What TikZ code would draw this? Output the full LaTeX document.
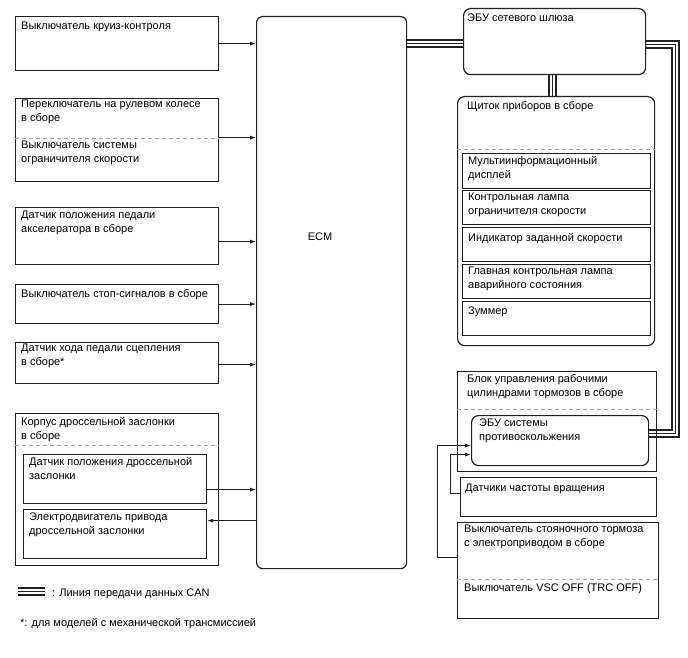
\documentclass[tikz,border=0pt]{standalone}
\usepackage{fontspec}
\setmainfont{Liberation Sans}
\usetikzlibrary{arrows.meta}
\definecolor{ln}{HTML}{231F20}
\newcommand\fs{\fontsize{11}{14}\selectfont}
\pgfdeclarelayer{bg}
\pgfsetlayers{bg,main}
\begin{document}
\begin{tikzpicture}[x=1pt,y=-1pt,
 box/.style={draw=ln, line width=1.2pt, inner sep=0, anchor=north west},
 rbox/.style={box, rounded corners=7pt},
 txt/.style={anchor=north west, inner sep=0, align=left, font=\fs, yshift=5.8pt, execute at begin node=\strut},
 arr/.style={draw=ln, line width=0.8pt, -{Latex[length=6pt,width=4pt]}},
 dsh/.style={draw=gray!70, line width=0.8pt, dash pattern=on 4pt off 3pt},
 can/.style={draw=white, line width=4.6pt, line join=miter, preaction={draw=ln, line width=9pt, line join=miter}, postaction={draw=ln, line width=1pt, line join=miter}}]
\useasboundingbox (0,0) rectangle (688,658);

% ---------- boxes ----------
\node[box, minimum width=203pt, minimum height=54pt] (b1) at (15,16) {};
\node[box, minimum width=203pt, minimum height=83pt] (b2) at (15,98) {};
\node[box, minimum width=203pt, minimum height=57pt] (b3) at (15,207) {};
\node[box, minimum width=203pt, minimum height=39pt] (b4) at (15,284) {};
\node[box, minimum width=203pt, minimum height=41pt] (b5) at (15,342) {};
\node[box, minimum width=203pt, minimum height=152pt] (tb) at (15,413) {};
\node[box, minimum width=183pt, minimum height=49pt] (tbA) at (23,454) {};
\node[box, minimum width=183pt, minimum height=49pt] (tbB) at (23,509) {};
\node[rbox, rounded corners=6pt, minimum width=150pt, minimum height=552pt] (ecm) at (256,16) {};

\node[rbox, minimum width=182pt, minimum height=66pt] (gw) at (463,8) {};
\node[rbox, minimum width=197pt, minimum height=249pt] (ic) at (457,96) {};
\node[box, minimum width=188pt, minimum height=35pt] (ic1) at (462,153) {};
\node[box, minimum width=188pt, minimum height=34pt] (ic2) at (462,190) {};
\node[box, minimum width=188pt, minimum height=34pt] (ic3) at (462,227) {};
\node[box, minimum width=188pt, minimum height=34pt] (ic4) at (462,264) {};
\node[box, minimum width=188pt, minimum height=34pt] (ic5) at (462,301) {};
\node[box, minimum width=199pt, minimum height=100pt] (brk) at (457,371) {};
\node[rbox, minimum width=177pt, minimum height=50pt] (ecu) at (471,415) {};
\node[box, minimum width=196pt, minimum height=39pt] (spd) at (460,477) {};
\node[box, minimum width=201pt, minimum height=96pt] (park) at (457,522) {};

% ---------- CAN lines ----------
\begin{pgfonlayer}{bg}
\path ([yshift=-2pt]gw.west) coordinate (c1);
\draw[can] (c1 -| ecm.east) -- (c1);
\path ([xshift=-2pt]gw.south) coordinate (c2);
\draw[can] (c2) -- (c2 |- ic.north);
\draw[can] ([yshift=-3pt]gw.east) -- ++(29,0) |- ([yshift=7pt]ecu.east);
\end{pgfonlayer}

% ---------- dashed separators ----------
\draw[dsh] ([yshift=-40pt]b2.north west) -- ([yshift=-40pt]b2.north east);
\draw[dsh] ([yshift=-32pt]tb.north west) -- ([yshift=-32pt]tb.north east);
\draw[dsh] ([yshift=-53pt]ic.north west) -- ([yshift=-53pt]ic.north east);
\draw[dsh] ([yshift=-38pt]brk.north west) -- ([yshift=-38pt]brk.north east);
\draw[dsh] ([yshift=-57pt]park.north west) -- ([yshift=-57pt]park.north east);

% ---------- texts ----------
\node[txt] (t1) at (21,25) {Выключатель круиз-контроля};
\node[txt] (t2a) at (21,106) {Переключатель на рулевом колесе\\в сборе};
\node[txt] (t2b) at (21,147) {Выключатель системы\\ограничителя скорости};
\node[txt] (t3) at (21,217) {Датчик положения педали\\акселератора в сборе};
\node[txt] (t4) at (21,293) {Выключатель стоп-сигналов в сборе};
\node[txt] (t5) at (21,350) {Датчик хода педали сцепления\\в сборе*};
\node[txt] (t6) at (21,423) {Корпус дроссельной заслонки\\в сборе};
\node[txt] (t6a) at (29,463) {Датчик положения дроссельной\\заслонки};
\node[txt] (t6b) at (29,518) {Электродвигатель привода\\дроссельной заслонки};
\node[font=\fs, inner sep=0] (tecm) at (320,237) {ECM};

\node[txt] (tgw) at (467,17) {ЭБУ сетевого шлюза};
\node[txt] (tic) at (467,105) {Щиток приборов в сборе};
\node[txt] (tic1) at (468,162) {Мультиинформационный\\дисплей};
\node[txt] (tic2) at (468,199) {Контрольная лампа\\ограничителя скорости};
\node[txt] (tic3) at (468,237) {Индикатор заданной скорости};
\node[txt] (tic4) at (468,273) {Главная контрольная лампа\\аварийного состояния};
\node[txt] (tic5) at (468,310) {Зуммер};
\node[txt] (tbrk) at (467,380) {Блок управления рабочими\\цилиндрами тормозов в сборе};
\node[txt] (tecu) at (479,424) {ЭБУ системы\\противоскольжения};
\node[txt] (tspd) at (465,487) {Датчики частоты вращения};
\node[txt] (tpk) at (464,531) {Выключатель стояночного тормоза\\с электроприводом в сборе};
\node[txt] (tvsc) at (464,587) {Выключатель VSC OFF (TRC OFF)};

\node[txt] (leg) at (52,592) {: Линия передачи данных CAN};
\draw[can] ([xshift=-34pt,yshift=2pt]leg.west) -- ([xshift=-7pt,yshift=2pt]leg.west);
\node[txt] (foot) at (20,622) {*: для моделей с механической трансмиссией};

% ---------- arrows ----------
\draw[arr] (b1.east) -- (b1.east -| ecm.west);
\path ([yshift=2.5pt]b2.east) coordinate (a2);
\draw[arr] (a2) -- (a2 -| ecm.west);
\path ([yshift=-5.5pt]b3.east) coordinate (a3);
\draw[arr] (a3) -- (a3 -| ecm.west);
\draw[arr] (b4.east) -- (b4.east -| ecm.west);
\path ([yshift=-1.5pt]b5.east) coordinate (a5);
\draw[arr] (a5) -- (a5 -| ecm.west);
\path ([yshift=-10.5pt]tbA.east) coordinate (aA);
\draw[arr] (aA) -- (aA -| ecm.west);
\path ([yshift=13.5pt]tbB.east) coordinate (aB);
\draw[arr] (aB -| ecm.west) -- (aB);

\draw[arr] ([yshift=13pt]park.west) -- ++(-20,0) |- ([yshift=-5pt]ecu.west);
\draw[arr] ([yshift=3.5pt]spd.west) -- ++(-10,0) |- ([yshift=-14pt]ecu.west);
\end{tikzpicture}
\end{document}
